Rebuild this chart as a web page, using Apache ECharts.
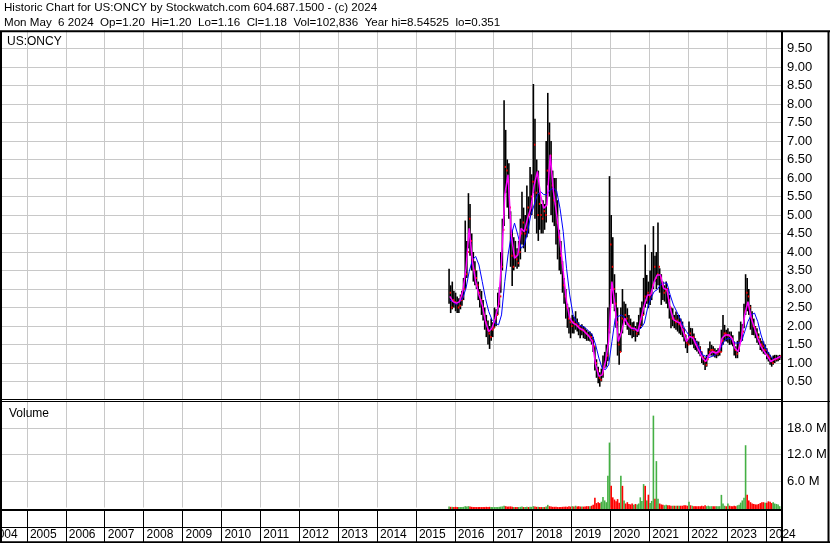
<!DOCTYPE html>
<html><head><meta charset="utf-8">
<script src="https://cdn.jsdelivr.net/npm/echarts@6/dist/echarts.min.js"></script>
<style>html,body{margin:0;padding:0;background:#fff;overflow:hidden}
#wrap{position:relative;width:830px;height:543px;overflow:hidden}
#c{position:absolute;left:-12px;top:0;width:842px;height:543px}</style>
</head><body><div id="wrap"><div id="c"></div></div>
<script>
// ---------- texts ----------
const headerLine1 = 'Historic Chart for US:ONCY by Stockwatch.com 604.687.1500 - (c) 2024';
const headerLine2 = 'Mon May  6 2024  Op=1.20  Hi=1.20  Lo=1.16  Cl=1.18  Vol=102,836  Year hi=8.54525  lo=0.351';
const symbolLabel = 'US:ONCY';
const volumeLabel = 'Volume';

// ---------- axis ranges / ticks ----------
const yearStart = 2004;               // first year tick
const axisEnd = {y: 2024, m: 5, d: 30}; // right edge of the time axis
const priceMax = 10, priceStep = 0.5;
const volMax = 24e6, volStep = 6e6;

// ---------- data: half-month bars, Nov 2015 .. May 2024 ----------
const firstPeriod = {year: 2015, month: 11};
const high = [
 3.55,3.1,3.2,2.95,
 2.9,2.8,2.75,2.85,2.95,3.3,4.85,4.3,5.59,5.3,4.5,4.0,3.75,3.5,3.2,3.0,2.95,2.7,2.5,2.3,2.15,2.0,2.2,2.1,
 2.5,2.45,2.9,3.05,4.0,4.9,8.1,7.3,6.5,6.4,5.1,4.6,4.4,4.3,4.1,4.3,4.9,5.63,5.2,5.0,5.8,5.5,6.3,6.1,
 8.54,7.6,6.5,6.2,5.6,5.3,5.4,5.3,7.0,8.3,7.5,7.0,6.2,6.0,6.0,5.4,4.6,4.3,3.75,3.3,3.0,2.6,2.5,2.2,
 2.3,2.25,2.4,2.2,2.1,2.0,2.05,2.0,1.95,1.9,1.85,1.85,1.8,1.7,1.45,1.1,0.9,0.75,0.85,1.2,1.3,1.5,2.5,6.05,
 5.0,4.4,3.4,2.9,2.5,1.8,2.5,3.0,2.66,2.6,2.48,2.3,2.2,2.1,2.12,2.0,2.1,2.3,2.5,2.66,3.3,4.2,3.38,3.2,
 3.5,4.0,4.7,3.9,4.0,4.8,3.56,3.4,3.2,3.1,3.2,3.0,2.84,2.5,2.48,2.3,2.39,2.3,2.3,2.2,2.12,1.95,1.76,1.65,
 2.12,1.95,1.94,1.8,1.67,1.6,1.58,1.45,1.31,1.2,1.15,1.22,1.4,1.58,1.49,1.45,1.4,1.35,1.4,1.38,1.9,2.3,2.03,1.9,
 1.94,1.85,1.85,1.75,1.58,1.45,1.6,1.85,2.12,2.05,2.6,3.4,3.3,3.0,2.57,2.4,2.2,2.0,1.94,1.8,1.67,1.6,1.58,1.5,
 1.4,1.3,1.22,1.15,1.2,1.22,1.22,1.2,1.22
];
const low = [
 2.6,2.35,2.45,2.5,
 2.4,2.35,2.35,2.45,2.55,2.7,3.0,3.3,4.1,3.9,3.5,3.2,3.1,3.0,2.7,2.5,2.3,2.15,1.9,1.7,1.5,1.38,1.6,1.7,
 1.95,2.0,2.3,2.5,2.9,3.5,4.7,5.6,5.2,4.9,3.6,3.08,3.5,3.6,3.55,3.6,3.8,4.2,4.1,4.0,4.4,4.5,5.0,5.0,
 5.6,4.9,4.5,4.3,4.6,4.5,4.5,4.6,4.8,5.8,5.5,5.0,4.8,4.7,4.2,3.8,3.5,3.4,2.9,2.6,2.2,1.95,1.8,1.67,
 1.8,1.8,1.9,1.85,1.75,1.67,1.75,1.67,1.65,1.6,1.6,1.58,1.5,1.3,0.8,0.6,0.45,0.36,0.5,0.6,0.86,0.9,1.05,1.8,
 3.0,2.6,2.4,1.95,1.2,0.95,1.3,1.8,2.1,2.03,1.9,1.76,1.75,1.67,1.7,1.58,1.7,1.75,1.94,2.0,2.3,2.5,2.6,2.48,
 2.57,2.7,3.0,3.2,3.0,3.1,2.9,2.57,2.7,2.66,2.6,2.48,2.2,1.94,2.0,1.94,1.9,1.85,1.8,1.76,1.7,1.58,1.4,1.27,
 1.5,1.49,1.5,1.4,1.35,1.31,1.25,1.18,1.0,0.95,0.81,0.9,1.13,1.2,1.2,1.18,1.15,1.13,1.18,1.2,1.3,1.49,1.6,1.58,
 1.55,1.49,1.5,1.45,1.2,1.13,1.13,1.3,1.58,1.6,1.94,2.3,2.4,2.3,1.9,1.76,1.75,1.67,1.55,1.49,1.35,1.31,1.25,1.22,
 1.1,1.04,0.95,0.9,0.95,1.0,1.04,1.05,1.08
];
const close = [
 2.9,2.5,2.7,2.65,
 2.6,2.5,2.55,2.7,2.8,3.0,3.4,4.0,4.9,4.3,3.8,3.5,3.3,3.1,2.9,2.7,2.5,2.3,2.1,1.9,1.8,1.7,1.9,1.95,
 2.2,2.3,2.6,2.8,3.6,4.6,6.3,6.2,5.9,5.2,3.9,3.6,3.9,3.8,3.7,4.0,4.5,4.8,4.5,4.6,5.2,5.0,5.5,5.9,
 6.9,5.6,5.0,5.3,5.0,4.9,5.1,5.0,6.2,7.2,6.6,5.8,5.4,5.3,4.8,4.4,3.9,3.7,3.1,2.8,2.5,2.2,2.1,2.0,
 2.1,2.05,2.05,2.0,1.95,1.9,1.9,1.85,1.8,1.75,1.7,1.7,1.6,1.45,1.0,0.8,0.6,0.55,0.7,0.9,1.1,1.2,1.9,4.2,
 3.6,3.0,2.6,2.1,1.5,1.3,2.2,2.15,2.3,2.2,2.05,2.0,1.95,1.9,1.9,1.8,1.9,2.0,2.2,2.3,2.8,2.7,2.9,2.8,
 2.9,3.1,3.6,3.3,3.4,3.6,3.3,3.1,2.9,2.95,3.0,2.7,2.5,2.2,2.2,2.1,2.15,2.05,2.1,2.0,1.9,1.75,1.55,1.5,
 1.8,1.7,1.7,1.6,1.5,1.45,1.4,1.3,1.15,1.05,0.95,1.1,1.3,1.35,1.35,1.3,1.25,1.25,1.3,1.3,1.6,1.8,1.8,1.75,
 1.75,1.7,1.65,1.55,1.35,1.25,1.4,1.6,1.8,1.85,2.4,2.9,2.8,2.5,2.2,2.0,1.95,1.8,1.7,1.6,1.5,1.45,1.35,1.35,
 1.2,1.15,1.05,1.0,1.1,1.1,1.12,1.15,1.18
];
// volume in millions of shares per half-month
const volumeM = [
 0.2,0.15,0.15,0.1,
 0.15,0.1,0.1,0.1,0.1,0.15,0.3,0.2,0.3,0.2,0.15,0.1,0.1,0.1,0.1,0.1,0.1,0.1,0.1,0.15,0.1,0.15,0.1,0.1,
 0.1,0.1,0.1,0.15,0.2,0.25,0.4,0.3,0.2,0.2,0.25,0.15,0.1,0.1,0.1,0.1,0.15,0.2,0.1,0.1,0.15,0.1,0.15,0.15,
 0.3,0.2,0.15,0.15,0.1,0.1,0.1,0.1,0.25,0.6,0.3,0.2,0.15,0.15,0.15,0.1,0.1,0.1,0.15,0.15,0.2,0.15,0.3,0.2,
 0.3,0.2,0.4,0.2,0.3,0.2,0.2,0.2,0.25,0.3,0.3,0.3,0.4,0.6,2.2,1.0,1.2,1.0,1.3,2.4,1.6,1.2,7.2,14.7,
 4.9,2.3,1.8,1.4,1.9,1.1,7.2,4.9,1.6,0.9,1.2,0.8,0.7,0.9,0.6,0.8,0.7,0.9,2.3,1.5,5.3,4.9,1.6,2.9,
 1.0,1.5,20.8,2.0,10.5,2.0,0.9,0.7,0.6,0.5,0.6,0.5,0.5,0.4,0.4,0.4,0.4,0.4,0.4,0.4,0.4,0.5,0.5,0.4,
 1.3,0.5,0.4,0.3,0.3,0.3,0.3,0.3,0.4,0.3,0.5,0.3,0.4,0.3,0.3,0.3,0.3,0.3,0.3,0.3,2.86,0.9,0.4,0.3,
 0.9,0.4,0.3,0.3,0.4,0.3,0.5,0.6,1.1,1.6,2.2,14.1,2.9,1.6,1.2,0.9,0.8,0.7,0.7,0.8,1.0,1.2,1.2,1.1,
 1.1,1.4,1.3,1.0,1.2,0.9,0.8,0.7,0.3
];
// moving averages read monthly (mid-month), Nov 2015 .. May 2024
const maShort = [
 2.8,2.66,
 2.62,2.66,2.93,3.56,4.64,3.74,3.2,2.84,2.57,2.12,1.85,1.94,
 2.21,2.57,3.74,5.55,6.09,4.46,3.83,3.92,4.64,4.55,4.91,5.18,
 5.8,6.18,5.55,5.18,5.27,6.63,5.64,5.0,4.28,3.47,2.66,2.21,
 2.08,2.03,1.94,1.9,1.81,1.72,1.58,0.95,0.64,0.68,1.04,1.58,
 3.2,2.48,1.58,1.85,2.21,2.03,1.94,1.94,1.85,2.21,2.57,2.84,
 2.84,3.2,3.38,3.38,3.02,2.98,2.48,2.17,2.12,2.08,1.85,1.58,
 1.72,1.67,1.49,1.31,1.13,1.04,1.22,1.31,1.27,1.31,1.67,1.76,
 1.76,1.67,1.4,1.31,1.67,2.3,2.66,2.21,1.94,1.67,1.45,1.31,
 1.18,1.04,1.09,1.13,1.18
];
const maLong = [
 2.7,2.66,
 2.57,2.66,2.75,3.02,3.47,3.79,3.88,3.65,3.2,2.75,2.39,2.17,
 2.08,2.03,2.3,3.2,3.92,4.46,4.78,4.46,4.1,4.19,4.55,5.0,
 5.27,5.55,5.64,5.55,5.55,5.68,5.73,5.64,5.18,4.55,3.56,2.84,
 2.3,2.12,2.03,1.99,1.94,1.85,1.76,1.49,1.13,0.86,0.82,0.95,
 1.58,2.21,2.26,2.3,2.21,2.03,1.94,1.9,1.9,1.94,2.08,2.48,
 2.75,2.93,2.98,3.11,3.16,3.16,2.84,2.57,2.39,2.21,1.99,1.85,
 1.72,1.67,1.58,1.4,1.22,1.18,1.15,1.18,1.22,1.31,1.49,1.63,
 1.67,1.63,1.54,1.54,1.58,1.85,2.12,2.3,2.35,2.12,1.76,1.49,
 1.31,1.18,1.09,1.13,1.15
];

// ---------- helpers ----------
function fracYear(y, m, d) {
  const a = Date.UTC(y, 0, 1), b = Date.UTC(y + 1, 0, 1);
  return y + (Date.UTC(y, m - 1, d) - a) / (b - a);
}
function periodDate(idxMonth, day) {
  const mi = firstPeriod.month - 1 + idxMonth;
  return fracYear(firstPeriod.year + Math.floor(mi / 12), (mi % 12) + 1, day);
}
const periodT = high.map((_, i) => periodDate(Math.floor(i / 2), i % 2 ? 23 : 8));
const monthT = maShort.map((_, i) => periodDate(i, 15));
const xMax = fracYear(axisEnd.y, axisEnd.m, axisEnd.d);

const FONT = '"Liberation Sans", Arial, sans-serif';
const OFF = 12;          // the chart canvas starts 12px left of the page
const GL = 0, GR = 48;

function xAxisFor(i) {
  const strip = i === 2;
  return {
    type: 'value', gridIndex: i, min: yearStart, max: xMax, interval: 1,
    axisLine: {show: strip, onZero: false, lineStyle: {color: '#000', width: 1}},
    axisTick: {show: strip, length: 15, lineStyle: {color: '#000', width: 1}},
    axisLabel: {
      show: strip, align: 'left', verticalAlign: 'middle', margin: 7.5, padding: [0, 0, 0, 3],
      fontSize: 12, color: '#000', fontFamily: FONT,
      formatter: v => Math.abs(v - Math.round(v)) < 1e-6 ? String(Math.round(v)) : ''
    },
    splitLine: {show: true, showMaxLine: false, lineStyle: {color: strip ? '#000' : '#c8c8c8', width: 1}}
  };
}

const chart = echarts.init(document.getElementById('c'), null, {renderer: 'canvas'});
const lines = (arr) => arr.map(([x1, y1, x2, y2, w]) => ({
  type: 'line', z: 100, silent: true,
  shape: {x1: x1 + OFF, y1, x2: x2 + OFF, y2}, style: {stroke: '#000', lineWidth: w}
}));
const texts = (arr) => arr.map(([t, x, y, fs]) => ({
  type: 'text', z: 100, silent: true, x: x + OFF, y,
  style: {text: t, fill: '#000', font: fs + 'px ' + FONT, verticalAlign: 'middle', align: 'left'}
}));

chart.setOption({
  animation: false,
  backgroundColor: '#fff',
  grid: [
    {left: GL, right: GR, top: 30, height: 370},
    {left: GL, right: GR, top: 401.5, height: 106},
    {left: GL, right: GR, top: 510, height: 17}
  ],
  xAxis: [xAxisFor(0), xAxisFor(1), xAxisFor(2)],
  yAxis: [
    {gridIndex: 0, position: 'right', min: 0, max: priceMax, interval: priceStep,
     axisLine: {show: false}, axisTick: {show: false},
     axisLabel: {margin: 5, fontSize: 13, color: '#000', fontFamily: FONT,
       formatter: v => (v > 0.01 && v < priceMax - 0.01) ? v.toFixed(2) : ''},
     splitLine: {show: true, showMinLine: false, showMaxLine: false, lineStyle: {color: '#c8c8c8', width: 1}}},
    {gridIndex: 1, position: 'right', min: 0, max: volMax, interval: volStep,
     axisLine: {show: false}, axisTick: {show: false},
     axisLabel: {margin: 5, fontSize: 13, color: '#000', fontFamily: FONT,
       formatter: v => (v > 1 && v < volMax - 1) ? (v / 1e6).toFixed(1) + ' M' : ''},
     splitLine: {show: true, showMinLine: false, showMaxLine: false, lineStyle: {color: '#c8c8c8', width: 1}}},
    {gridIndex: 2, min: 0, max: 1, show: false}
  ],
  series: [
    {
      type: 'custom', xAxisIndex: 0, yAxisIndex: 0, silent: true, z: 2,
      data: periodT.map((t, i) => [t, high[i], low[i]]),
      renderItem: (p, api) => {
        const t = api.value(0);
        const h = api.coord([t, api.value(1)]), l = api.coord([t, api.value(2)]);
        return {type: 'rect', shape: {x: h[0] - 0.8, y: h[1], width: 1.6, height: l[1] - h[1]}, style: {fill: '#000'}};
      }
    },
    {
      type: 'custom', xAxisIndex: 0, yAxisIndex: 0, silent: true, z: 2.5,
      data: periodT.map((t, i) => [t, close[i]]),
      renderItem: (p, api) => {
        const c = api.coord([api.value(0), api.value(1)]);
        return {type: 'rect', shape: {x: c[0] + 0.6, y: c[1] - 1, width: 1.4, height: 2}, style: {fill: '#ff0000'}};
      }
    },
    {
      type: 'line', xAxisIndex: 0, yAxisIndex: 0, silent: true, z: 3,
      data: monthT.map((t, i) => [t, maLong[i]]), showSymbol: false,
      lineStyle: {color: '#0000ff', width: 1}
    },
    {
      type: 'line', xAxisIndex: 0, yAxisIndex: 0, silent: true, z: 4,
      data: monthT.map((t, i) => [t, maShort[i]]), showSymbol: false,
      lineStyle: {color: '#ff00ff', width: 1.5}
    },
    {
      type: 'custom', xAxisIndex: 1, yAxisIndex: 1, silent: true, z: 2,
      data: periodT.map((t, i) => [t, volumeM[i] * 1e6, (i > 0 && close[i] < close[i - 1]) ? 0 : 1]),
      renderItem: (p, api) => {
        const t = api.value(0);
        const b = api.coord([t, 0]), top = api.coord([t, api.value(1)]);
        return {type: 'rect', shape: {x: b[0] - 0.8, y: top[1], width: 1.6, height: b[1] - top[1] + 1.5},
          style: {fill: api.value(2) ? '#44b044' : '#ff0000'}};
      }
    }
  ],
  graphic: [
    ...texts([
      [headerLine1, 4, 7.5, 11.6],
      [headerLine2, 4, 23, 11.6],
      [symbolLabel, 7, 42, 12],
      [volumeLabel, 9, 414, 12]
    ]),
    ...lines([
      [0, 31.25, 830, 31.25, 2],
      [1, 31, 1, 543, 2],
      [782, 31, 782, 543, 2],
      [828.5, 31, 828.5, 543, 2],
      [0, 399.5, 782, 399.5, 1],
      [0, 401.5, 830, 401.5, 1],
      [0, 510, 782, 510, 2],
      [0, 542.2, 830, 542.2, 2]
    ])
  ]
});
</script></body></html>
